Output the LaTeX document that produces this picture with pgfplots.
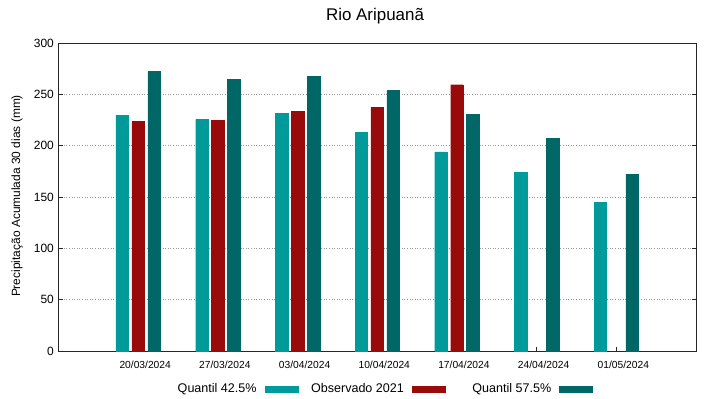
\documentclass[border=0pt]{standalone}
\usepackage{pgfplots}
\pgfplotsset{compat=1.18}
\usepackage{fontspec}
\setmainfont{Liberation Sans}
\definecolor{qlow}{HTML}{009A9A}
\definecolor{obs}{HTML}{990B0B}
\definecolor{qhigh}{HTML}{006666}
\begin{document}
\begin{tikzpicture}
\begin{axis}[
  at={(0,0)}, anchor=south west,
  scale only axis, width=637.5bp, height=308bp,
  xmin=-1, xmax=7, ymin=0, ymax=300,
  ytick={0,50,...,300},
  xtick={0,...,6},
  xticklabels={20/03/2024,27/03/2024,03/04/2024,10/04/2024,17/04/2024,24/04/2024,01/05/2024},
  xtick pos=lower, ytick pos=both,
  tick align=inside,
  major tick length=4bp,
  ymajorgrids,
  grid style={gray!80, line width=0.5bp, dash pattern=on 1bp off 1.6bp},
  axis line style={black!85, line width=0.8bp},
  tick style={black!85, line width=0.6bp},
  /pgf/number format/assume math mode=true,
  yticklabel style={font=\fontsize{12}{14}\selectfont, anchor=east, inner sep=0pt, xshift=-4.5bp},
  xticklabel style={font=\fontsize{10.3}{12}\selectfont, anchor=base, inner sep=0pt, xshift=7bp, yshift=-17bp},
  legend columns=3,
  legend plot pos=right,
  legend style={at={(axis description cs:0.5007,-0.1234)}, anchor=center, draw=none, fill=none,
    inner sep=0pt, outer sep=0pt, nodes={inner sep=0pt},
    font=\fontsize{12.6}{14}\selectfont,
    /tikz/every odd column/.append style={column sep=8bp},
    /tikz/every even column/.append style={column sep=11.7bp}},
  legend image code/.code={\fill[#1] (0bp,-2.75bp) rectangle (33.3bp,2.75bp);},
  clip=false,
]
\addplot[ybar, bar width=0.157, bar shift=0pt, fill=qlow, draw=qlow, line width=0.3bp]
  coordinates {(-0.2,229.6) (0.8,225.7) (1.8,231.5) (2.8,213.3) (3.8,193.9) (4.8,173.8) (5.8,144.9)};
\addlegendentry{\makebox[94bp][r]{Quantil 42.5\%}}
\addplot[ybar, bar width=0.157, bar shift=0pt, fill=obs, draw=obs, line width=0.3bp]
  coordinates {(0,223.7) (1,224.4) (2,233.5) (3,237.4) (4,259.4)};
\addlegendentry{\makebox[94bp][r]{Observado 2021}}
\addplot[ybar, bar width=0.157, bar shift=0pt, fill=qhigh, draw=qhigh, line width=0.3bp]
  coordinates {(0.2,272.4) (1.2,264.6) (2.2,267.8) (3.2,253.6) (4.2,230.5) (5.2,207.2) (6.2,172.2)};
\addlegendentry{\makebox[94bp][r]{Quantil 57.5\%}}
\end{axis}
\node[anchor=base, font=\fontsize{17}{20}\selectfont] at (316.5bp,330.3bp) {Rio Aripuanã};
\node[rotate=90, anchor=center, font=\fontsize{12}{14}\selectfont] at (-41.5bp,155bp) {Precipitação Acumulada 30 dias (mm)};
\pgfresetboundingbox
\path (-58.5bp,-48bp) rectangle (660.5bp,351bp);
\end{tikzpicture}
\end{document}
